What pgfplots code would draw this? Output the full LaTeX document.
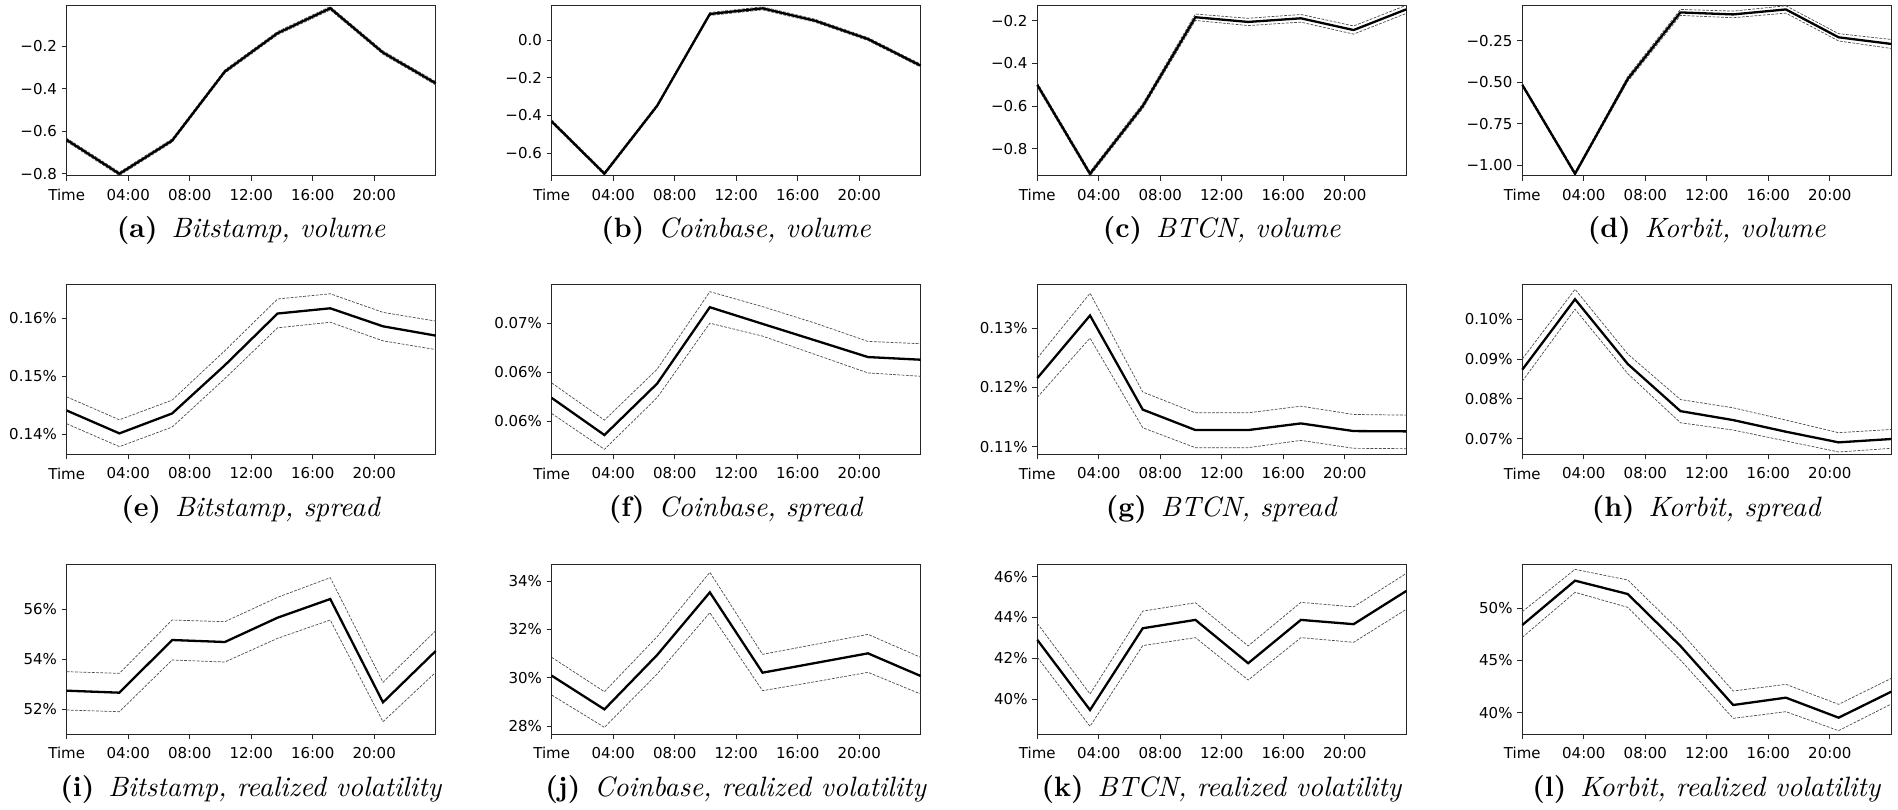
\documentclass[border=0pt]{standalone}
\usepackage{fontspec}
\usepackage{pgfplots}
\usepackage{pgfplotstable}
\pgfplotsset{compat=1.18}
\newfontfamily\dv{DejaVu Sans}
\newfontfamily\capfam{lmroman10}[Extension=.otf, UprightFont=*-regular, ItalicFont=*-italic, BoldFont=*-bold, BoldItalicFont=*-bolditalic]
\newcommand\tickfont{\dv\fontsize{7.5}{8.5}\selectfont}
\newcommand\capfont{\capfam\fontsize{14}{16}\selectfont}
\newcommand\subcap[2]{\textbf{(#1)}\hspace{0.5em}\textit{#2}}

% x: hours; m: mean; u: upper; l: lower
\pgfplotstableread{
x m u l
0 -0.641 -0.633 -0.649
3.4286 -0.800 -0.792 -0.808
6.8571 -0.644 -0.636 -0.652
10.2857 -0.320 -0.312 -0.328
13.7143 -0.140 -0.132 -0.148
17.1429 -0.023 -0.015 -0.031
20.5714 -0.231 -0.223 -0.239
24 -0.375 -0.367 -0.383
}\tA
\pgfplotstableread{
x m u l
0 -0.432 -0.424 -0.440
3.4286 -0.709 -0.701 -0.717
6.8571 -0.349 -0.341 -0.357
10.2857 0.138 0.146 0.130
13.7143 0.168 0.176 0.160
17.1429 0.102 0.110 0.094
20.5714 0.005 0.013 -0.003
24 -0.136 -0.128 -0.144
}\tB
\pgfplotstableread{
x m u l
0 -0.501 -0.491 -0.511
3.4286 -0.917 -0.907 -0.927
6.8571 -0.600 -0.588 -0.612
10.2857 -0.184 -0.169 -0.199
13.7143 -0.206 -0.189 -0.223
17.1429 -0.189 -0.171 -0.207
20.5714 -0.244 -0.225 -0.263
24 -0.147 -0.128 -0.166
}\tC
\pgfplotstableread{
x m u l
0 -0.517 -0.507 -0.527
3.4286 -1.052 -1.042 -1.062
6.8571 -0.481 -0.466 -0.496
10.2857 -0.080 -0.062 -0.098
13.7143 -0.092 -0.072 -0.112
17.1429 -0.062 -0.040 -0.084
20.5714 -0.230 -0.208 -0.252
24 -0.270 -0.243 -0.297
}\tD
\pgfplotstableread{
x m u l
0 0.14411 0.14646 0.14183
3.4286 0.14017 0.14251 0.13789
6.8571 0.1436 0.1459 0.14126
10.2857 0.1519 0.1544 0.1496
13.7143 0.1608 0.1633 0.15834
17.1429 0.1617 0.1642 0.1593
20.5714 0.1586 0.1610 0.1561
24 0.1570 0.1595 0.1546
}\tE
\pgfplotstableread{
x m u l
0 0.06237 0.0639 0.06078
3.4286 0.05858 0.06010 0.05712
6.8571 0.06383 0.0653 0.0624
10.2857 0.07163 0.07322 0.0700
13.7143 0.06993 0.07169 0.06868
17.1429 0.06824 0.0700 0.0668
20.5714 0.06654 0.06814 0.06492
24 0.06627 0.0679 0.06458
}\tF
\pgfplotstableread{
x m u l
0 0.12157 0.12493 0.11832
3.4286 0.13213 0.13588 0.12832
6.8571 0.11625 0.11922 0.11319
10.2857 0.1128 0.11571 0.10983
13.7143 0.1128 0.11571 0.10983
17.1429 0.11392 0.11683 0.11106
20.5714 0.11263 0.11543 0.10972
24 0.11258 0.11532 0.10966
}\tG
\pgfplotstableread{
x m u l
0 0.08733 0.0900 0.08442
3.4286 0.1050 0.1075 0.1025
6.8571 0.08875 0.09125 0.08633
10.2857 0.07692 0.07983 0.0740
13.7143 0.07467 0.07775 0.07217
17.1429 0.07175 0.07467 0.06942
20.5714 0.06908 0.07150 0.06667
24 0.06992 0.07233 0.06758
}\tH
\pgfplotstableread{
x m u l
0 52.733 53.493 51.960
3.4286 52.653 53.427 51.893
6.8571 54.760 55.560 53.960
10.2857 54.680 55.493 53.880
13.7143 55.653 56.467 54.827
17.1429 56.400 57.253 55.560
20.5714 52.267 53.067 51.493
24 54.320 55.133 53.467
}\tI
\pgfplotstableread{
x m u l
0 30.083 30.841 29.283
3.4286 28.690 29.421 27.945
6.8571 30.938 31.697 30.152
10.2857 33.531 34.359 32.690
13.7143 30.207 30.966 29.462
17.1429 30.607 31.379 29.834
20.5714 31.007 31.793 30.221
24 30.069 30.841 29.324
}\tJ
\pgfplotstableread{
x m u l
0 42.899 43.71 42.05
3.4286 39.460 40.245 38.66
6.8571 43.47 44.31 42.62
10.2857 43.88 44.72 43.01
13.7143 41.755 42.605 40.93
17.1429 43.88 44.74 43.01
20.5714 43.67 44.52 42.78
24 45.30 46.16 44.40
}\tK
\pgfplotstableread{
x m u l
0 48.403 49.68 47.22
3.4286 52.652 53.738 51.534
6.8571 51.374 52.716 50.096
10.2857 46.39 47.764 45.048
13.7143 40.735 42.077 39.457
17.1429 41.438 42.716 40.096
20.5714 39.521 40.8 38.275
24 42.013 43.29 40.831
}\tL

\pgfplotsset{
  panel/.style={
    scale only axis, width=184.5pt, height=85pt,
    anchor=north west, clip=false,
    xmin=0, xmax=24,
    xtick={0,4,8,12,16,20},
    xticklabels={Time,04:00,08:00,12:00,16:00,20:00},
    tick align=outside, xtick pos=left, ytick pos=left,
    major tick length=2.5pt,
    every tick/.style={line width=0.4pt, black!85},
    axis line style={line width=0.45pt, black!85},
    ticklabel style={font=\tickfont},
    xticklabel style={anchor=north, inner sep=0pt, yshift=-4pt},
    yticklabel style={anchor=east, inner sep=0pt, xshift=-2.2pt},
    scaled y ticks=false,
  },
  mean/.style={black, line width=1.15pt, no marks},
  band/.style={black!70, line width=0.35pt, dash pattern=on 1.4pt off 0.7pt, no marks},
}
\newcommand\threelines[1]{%
  \addplot[band] table[x=x,y=u]{#1};
  \addplot[band] table[x=x,y=l]{#1};
  \addplot[mean] table[x=x,y=m]{#1};
}
\newcommand\panelcap[1]{\node[anchor=base, font=\capfont, inner sep=0pt] at (rel axis cs:0.5,0) [yshift=-31pt] {#1};}

\begin{document}
\begin{tikzpicture}
\useasboundingbox (0,0) rectangle (949pt,-404.5pt);
% ---------- row 1 ----------
\begin{axis}[panel, at={(33.35pt,-2.85pt)}, ymin=-0.809, ymax=-0.011,
  ytick={-0.8,-0.6,-0.4,-0.2}, yticklabels={−0.8,−0.6,−0.4,−0.2}]
\threelines{\tA}
\panelcap{\subcap{a}{Bitstamp, volume}}
\end{axis}
\begin{axis}[panel, at={(275.85pt,-2.85pt)}, ymin=-0.72, ymax=0.182,
  ytick={-0.6,-0.4,-0.2,0}, yticklabels={−0.6,−0.4,−0.2,0.0}]
\threelines{\tB}
\panelcap{\subcap{b}{Coinbase, volume}}
\end{axis}
\begin{axis}[panel, at={(518.65pt,-2.85pt)}, ymin=-0.926, ymax=-0.130,
  ytick={-0.8,-0.6,-0.4,-0.2}, yticklabels={−0.8,−0.6,−0.4,−0.2}]
\threelines{\tC}
\panelcap{\subcap{c}{BTCN, volume}}
\end{axis}
\begin{axis}[panel, at={(761.15pt,-2.85pt)}, ymin=-1.064, ymax=-0.0395,
  ytick={-1,-0.75,-0.5,-0.25}, yticklabels={−1.00,−0.75,−0.50,−0.25}]
\threelines{\tD}
\panelcap{\subcap{d}{Korbit, volume}}
\end{axis}
% ---------- row 2 ----------
\begin{axis}[panel, at={(33.35pt,-142.15pt)}, ymin=0.13657, ymax=0.16583,
  ytick={0.14,0.15,0.16}, yticklabels={0.14\%,0.15\%,0.16\%}]
\threelines{\tE}
\panelcap{\subcap{e}{Bitstamp, spread}}
\end{axis}
\begin{axis}[panel, at={(275.85pt,-142.15pt)}, ymin=0.05661, ymax=0.07397,
  ytick={0.06,0.065,0.07}, yticklabels={0.06\%,0.06\%,0.07\%}]
\threelines{\tF}
\panelcap{\subcap{f}{Coinbase, spread}}
\end{axis}
\begin{axis}[panel, at={(518.65pt,-142.15pt)}, ymin=0.10871, ymax=0.13739,
  ytick={0.11,0.12,0.13}, yticklabels={0.11\%,0.12\%,0.13\%}]
\threelines{\tG}
\panelcap{\subcap{g}{BTCN, spread}}
\end{axis}
\begin{axis}[panel, at={(761.15pt,-142.15pt)}, ymin=0.06608, ymax=0.10875,
  ytick={0.07,0.08,0.09,0.10}, yticklabels={0.07\%,0.08\%,0.09\%,0.10\%}]
\threelines{\tH}
\panelcap{\subcap{h}{Korbit, spread}}
\end{axis}
% ---------- row 3 ----------
\begin{axis}[panel, at={(33.35pt,-282pt)}, ymin=51, ymax=57.8,
  ytick={52,54,56}, yticklabels={52\%,54\%,56\%}]
\threelines{\tI}
\panelcap{\subcap{i}{Bitstamp, realized volatility}}
\end{axis}
\begin{axis}[panel, at={(275.85pt,-282pt)}, ymin=27.669, ymax=34.703,
  ytick={28,30,32,34}, yticklabels={28\%,30\%,32\%,34\%}]
\threelines{\tJ}
\panelcap{\subcap{j}{Coinbase, realized volatility}}
\end{axis}
\begin{axis}[panel, at={(518.65pt,-282pt)}, ymin=38.283, ymax=46.621,
  ytick={40,42,44,46}, yticklabels={40\%,42\%,44\%,46\%}]
\threelines{\tK}
\panelcap{\subcap{k}{BTCN, realized volatility}}
\end{axis}
\begin{axis}[panel, at={(761.15pt,-282pt)}, ymin=37.955, ymax=54.249,
  ytick={40,45,50}, yticklabels={40\%,45\%,50\%}]
\threelines{\tL}
\panelcap{\subcap{l}{Korbit, realized volatility}}
\end{axis}
\end{tikzpicture}
\end{document}
